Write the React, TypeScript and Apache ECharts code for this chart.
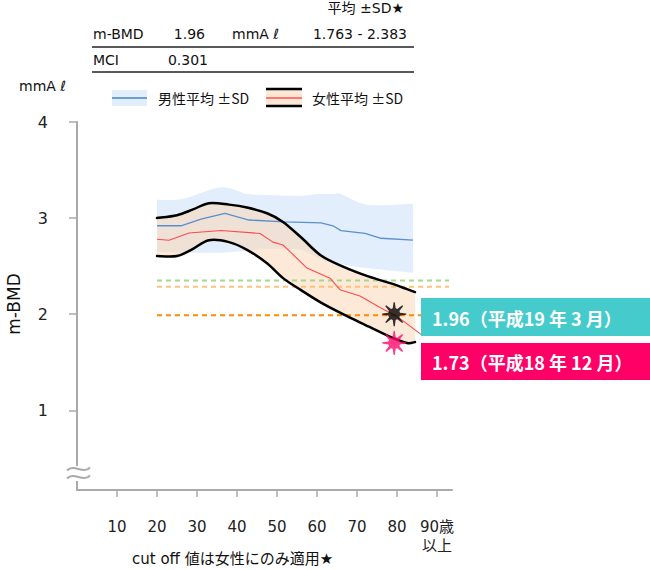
import React, { useEffect, useRef } from "react";
import * as echarts from "echarts";

// ---------- data ----------
const xTicks = [10, 20, 30, 40, 50, 60, 70, 80, 90];
const yTicks = [1, 2, 3, 4];

// male band (mean ± SD)
const maleBandAges = [20, 26.5, 36, 42.5, 48, 56, 60, 64, 66, 72.5, 84];
const maleTop = [3.19, 3.2, 3.32, 3.25, 3.24, 3.23, 3.25, 3.25, 3.25, 3.14, 3.15];
const maleBottom = [2.65, 2.64, 2.64, 2.66, 2.68, 2.67, 2.59, 2.54, 2.52, 2.48, 2.43];
// male mean
const maleMeanAges = [20, 26, 31, 37, 43, 52, 61, 64, 66, 72, 76, 84];
const maleMean = [2.92, 2.92, 2.99, 3.05, 2.98, 2.96, 2.95, 2.92, 2.87, 2.84, 2.79, 2.77];

// female band (mean ± SD)
const femaleBandAges = [20, 25, 29, 33, 38, 42.5, 47.5, 51.5, 56, 61, 66.5, 73, 78.5, 82.5, 84.5];
const femaleTop = [3.0, 3.03, 3.09, 3.155, 3.14, 3.11, 3.05, 2.96, 2.8, 2.61, 2.495, 2.39, 2.32, 2.26, 2.23];
const femaleBottom = [2.605, 2.605, 2.68, 2.77, 2.75, 2.67, 2.53, 2.375, 2.25, 2.12, 2.0, 1.87, 1.76, 1.7, 1.71];
// female mean
const femaleMeanAges = [20, 23, 28, 36, 45.75, 49, 51.5, 53.25, 57.5, 63.25, 65.75, 70.75, 75.75, 79, 81.5, 86];
const femaleMean = [2.78, 2.77, 2.845, 2.87, 2.84, 2.75, 2.72, 2.65, 2.48, 2.375, 2.255, 2.19, 2.07, 2.0, 1.93, 1.79];

// cut-off dashed lines
const cutoffRange = [20, 93];
const cutoffGreen = 2.35;
const cutoffLightOrange = 2.285;
const cutoffOrange = 1.99;

// measured points
const pointAge = 79.3;
const pointBlack = 2.0;
const pointPink = 1.7;
const labelBlack = "1.96（平成19 年 3 月）";
const labelPink = "1.73（平成18 年 12 月）";

// table texts
const tableHeader = "平均 ±SD★";
const tableRow1 = ["m-BMD", "1.96", "mmA ℓ", "1.763 - 2.383"];
const tableRow2 = ["MCI", "0.301"];
const legendMale = "男性平均 ±SD";
const legendFemale = "女性平均 ±SD";
const unitLabel = "mmA ℓ";
const yName = "m-BMD";
const xName = "cut off 値は女性にのみ適用★";

const FONT = '"DejaVu Sans", "Noto Sans CJK JP", sans-serif';
const CJK = '"Noto Sans CJK JP", "Noto Sans", sans-serif';

const MALE_FILL = "rgb(226,238,252)";
const FEMALE_FILL = "rgba(251,211,175,0.5)";

function pairs(xs: number[], ys: number[]) {
  return xs.map((x, i) => [x, ys[i]]);
}

type P = number[];
// Catmull-Rom curve through pixel points, as bezier path commands (without leading M)
function curveCmds(pts: P[]): string {
  let d = "";
  for (let i = 0; i < pts.length - 1; i++) {
    const p0 = pts[Math.max(0, i - 1)];
    const p1 = pts[i];
    const p2 = pts[i + 1];
    const p3 = pts[Math.min(pts.length - 1, i + 2)];
    const k = 1 / 6;
    const c1 = [p1[0] + (p2[0] - p0[0]) * k, p1[1] + (p2[1] - p0[1]) * k];
    const c2 = [p2[0] - (p3[0] - p1[0]) * k, p2[1] - (p3[1] - p1[1]) * k];
    d += ` C${c1[0].toFixed(2)} ${c1[1].toFixed(2)} ${c2[0].toFixed(2)} ${c2[1].toFixed(2)} ${p2[0].toFixed(2)} ${p2[1].toFixed(2)}`;
  }
  return d;
}

function bandSeries(ages: number[], top: number[], bottom: number[], fill: string, z: number) {
  return {
    type: "custom",
    data: [[ages[0], top[0]]],
    silent: true,
    z,
    renderItem: (_params: any, api: any) => {
      const t = ages.map((a, i) => api.coord([a, top[i]]));
      const b = ages.map((a, i) => api.coord([a, bottom[i]])).reverse();
      const d =
        `M${t[0][0]} ${t[0][1]}` +
        curveCmds(t) +
        ` L${b[0][0]} ${b[0][1]}` +
        curveCmds(b) +
        " Z";
      return { type: "path", shape: { pathData: d }, style: { fill } };
    },
  };
}

function curveSeries(ages: number[], vals: number[], color: string, width: number, z: number) {
  return {
    type: "custom",
    data: [[ages[0], vals[0]]],
    silent: true,
    z,
    renderItem: (_params: any, api: any) => {
      const t = ages.map((a, i) => api.coord([a, vals[i]]));
      const d = `M${t[0][0]} ${t[0][1]}` + curveCmds(t);
      return {
        type: "path",
        shape: { pathData: d },
        style: { fill: "none", stroke: color, lineWidth: width, lineJoin: "round", lineCap: "round" },
      };
    },
  };
}

function starPath(): string {
  const pts: string[] = [];
  const rad = (d: number) => (d * Math.PI) / 180;
  const p = (r: number, a: number) =>
    `${(r * Math.cos(rad(a))).toFixed(3)} ${(r * Math.sin(rad(a))).toFixed(3)}`;
  for (let k = 0; k < 8; k++) {
    const t = k * 45;
    pts.push(p(6, t - 14));
    pts.push(p(12, t - 3));
    pts.push(p(12, t + 3));
    pts.push(p(6, t + 14));
  }
  return "path://M" + pts.join(" L") + " Z";
}

export default function App() {
  const ref = useRef<HTMLDivElement>(null);
  useEffect(() => {
    if (!ref.current) return;
    const chart = echarts.init(ref.current, undefined, { renderer: "svg" });
    const star = starPath();
    const axisGray = "#aaaaaa";
    const dash = (color: string, y: number, z: number) => ({
      type: "line",
      data: [
        [cutoffRange[0], y],
        [cutoffRange[1], y],
      ],
      symbol: "none",
      silent: true,
      z,
      lineStyle: { color, width: 2, type: [5, 4] },
    });
    const txt = (text: string, x: number, y: number, align: string, size = 14, family = FONT) => ({
      type: "text",
      style: { text, x, y, align, verticalAlign: "middle", fontSize: size, fontFamily: family, fill: "#111" },
    });
    const tilde = (y: number) => ({
      type: "bezierCurve",
      z: 11,
      shape: { x1: 67, y1: y + 1.5, cpx1: 74, cpy1: y - 6, cpx2: 83, cpy2: y + 6, x2: 90, y2: y - 1.5 },
      style: { stroke: axisGray, lineWidth: 2, fill: "none" },
    });

    const option: any = {
      animation: false,
      grid: { left: 77, top: 122, width: 375, height: 368, containLabel: false },
      xAxis: {
        type: "value",
        min: 0,
        max: 93.75,
        splitLine: { show: false },
        axisLine: { lineStyle: { color: axisGray, width: 2 } },
        axisTick: { customValues: xTicks, length: 7, lineStyle: { color: axisGray, width: 1.5 } },
        axisLabel: {
          customValues: xTicks,
          margin: 27,
          fontSize: 15,
          lineHeight: 19,
          fontFamily: FONT,
          color: "#222",
          formatter: (v: number) => (v === 90 ? "90歳\n以上" : String(v)),
        },
      },
      yAxis: {
        type: "value",
        min: 0.17,
        max: 4,
        splitLine: { show: false },
        axisLine: { lineStyle: { color: axisGray, width: 2 } },
        axisTick: { customValues: yTicks, length: 8, lineStyle: { color: axisGray, width: 1.5 } },
        axisLabel: {
          customValues: yTicks,
          margin: 29,
          fontSize: 16,
          fontFamily: FONT,
          color: "#222",
        },
      },
      series: [
        bandSeries(maleBandAges, maleTop, maleBottom, MALE_FILL, 1),
        bandSeries(femaleBandAges, femaleTop, femaleBottom, FEMALE_FILL, 2),
        dash("#a8d890", cutoffGreen, 3),
        dash("#ffc27a", cutoffLightOrange, 3),
        dash("#ff8c00", cutoffOrange, 3),
        {
          type: "line",
          data: pairs(maleMeanAges, maleMean),
          symbol: "none",
          silent: true,
          z: 4,
          lineStyle: { color: "#5a8fcc", width: 1.3 },
        },
        {
          type: "line",
          data: pairs(femaleMeanAges, femaleMean),
          symbol: "none",
          silent: true,
          z: 4,
          lineStyle: { color: "#ff4a4a", width: 1.1 },
        },
        curveSeries(femaleBandAges, femaleTop, "#000", 2.5, 5),
        curveSeries(femaleBandAges, femaleBottom, "#000", 2.5, 5),
        {
          type: "scatter",
          data: [[pointAge, pointBlack]],
          symbol: star,
          symbolSize: 24,
          symbolKeepAspect: true,
          silent: true,
          z: 6,
          itemStyle: { color: "#000" },
        },
        {
          type: "scatter",
          data: [[pointAge, pointPink]],
          symbol: star,
          symbolSize: 24,
          symbolKeepAspect: true,
          silent: true,
          z: 6,
          itemStyle: { color: "#ff0a6c" },
        },
      ],
      graphic: [
        txt(tableHeader, 404, 8, "right"),
        txt(tableRow1[0], 93, 34, "left"),
        txt(tableRow1[1], 205, 34, "right"),
        txt(tableRow1[2], 232, 34, "left"),
        txt(tableRow1[3], 407, 34, "right"),
        { type: "line", shape: { x1: 92, y1: 47, x2: 414, y2: 47 }, style: { stroke: "#222", lineWidth: 1.3 } },
        txt(tableRow2[0], 93, 60, "left"),
        txt(tableRow2[1], 208, 60, "right"),
        { type: "line", shape: { x1: 92, y1: 72, x2: 414, y2: 72 }, style: { stroke: "#222", lineWidth: 1.3 } },
        txt(unitLabel, 19, 86, "left"),
        // legend male
        { type: "rect", shape: { x: 112, y: 90, width: 35, height: 16 }, style: { fill: MALE_FILL } },
        { type: "line", shape: { x1: 112, y1: 98, x2: 147, y2: 98 }, style: { stroke: "#6d9fd6", lineWidth: 2 } },
        txt(legendMale, 158, 98, "left", 14, CJK),
        // legend female
        { type: "rect", shape: { x: 266, y: 89, width: 36, height: 17 }, style: { fill: "#fde7d5" } },
        { type: "line", shape: { x1: 266, y1: 89, x2: 302, y2: 89 }, style: { stroke: "#000", lineWidth: 2.5 } },
        { type: "line", shape: { x1: 266, y1: 106, x2: 302, y2: 106 }, style: { stroke: "#000", lineWidth: 2.5 } },
        { type: "line", shape: { x1: 266, y1: 98, x2: 302, y2: 98 }, style: { stroke: "#ff5050", lineWidth: 1.5 } },
        txt(legendFemale, 312, 98, "left", 14, CJK),
        {
          type: "text",
          x: 14,
          y: 304,
          rotation: Math.PI / 2,
          style: { text: yName, x: 0, y: 0, align: "center", verticalAlign: "middle", fontSize: 17, fontFamily: FONT, fill: "#111" },
        },
        // axis break
        { type: "rect", z: 10, shape: { x: 72, y: 466, width: 10, height: 15 }, style: { fill: "#fff" } },
        tilde(469),
        tilde(477),
        txt(xName, 132, 559, "left", 15),
        { type: "rect", z: 20, shape: { x: 421, y: 298, width: 229, height: 38 }, style: { fill: "#45cbcb" } },
        { type: "text", z: 21, style: { text: labelBlack, x: 432, y: 318, align: "left", verticalAlign: "middle", fontSize: 18, fontWeight: "bold", fontFamily: CJK, fill: "#fff" } },
        { type: "rect", z: 20, shape: { x: 421, y: 343, width: 229, height: 37 }, style: { fill: "#ff0066" } },
        { type: "text", z: 21, style: { text: labelPink, x: 432, y: 362, align: "left", verticalAlign: "middle", fontSize: 18, fontWeight: "bold", fontFamily: CJK, fill: "#fff" } },
      ],
    };
    chart.setOption(option);
    return () => chart.dispose();
  }, []);
  return (
    <div
      ref={ref}
      style={{ position: "absolute", left: 0, top: 0, width: 650, height: 570, background: "#fff" }}
    />
  );
}
